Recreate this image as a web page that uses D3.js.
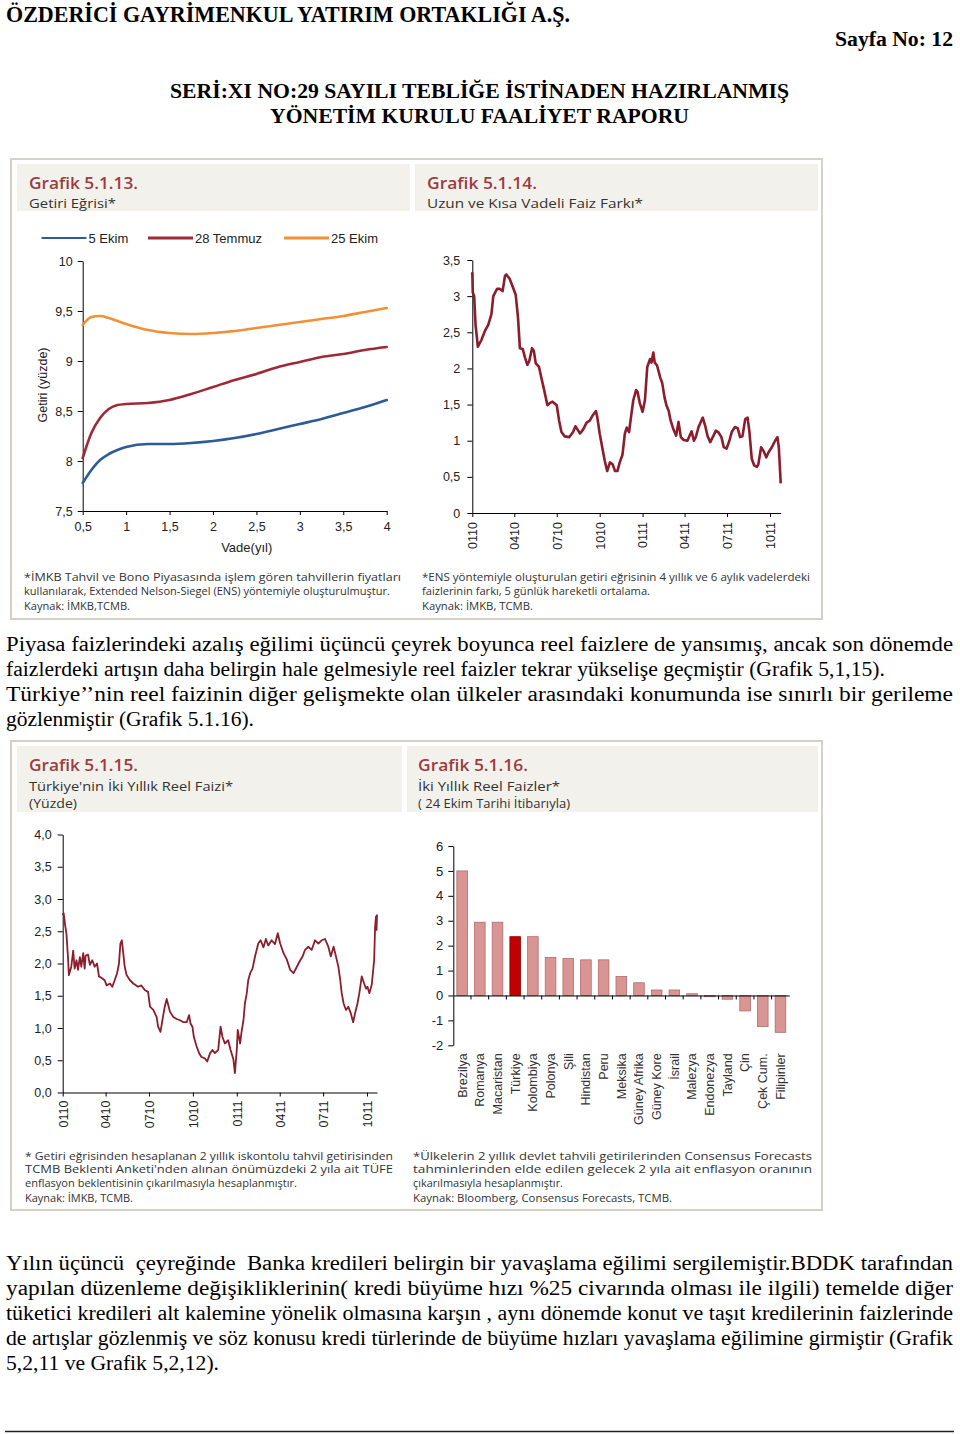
<!DOCTYPE html>
<html><head><meta charset="utf-8">
<script src="https://cdn.jsdelivr.net/npm/d3@7"></script>
<style>body{margin:0;background:#fff}svg{display:block}</style>
</head><body>
<svg id="c" width="960" height="1434"></svg>
<script>
// ---------- DATA ----------
const yieldTerms = [0.5,0.6,0.7,0.8,0.9,1.0,1.25,1.5,1.75,2.0,2.25,2.5,2.75,3.0,3.25,3.5,3.75,4.0];
const yield5Ekim = [7.78,7.91,8.01,8.07,8.11,8.14,8.17,8.17,8.18,8.20,8.23,8.27,8.32,8.37,8.42,8.48,8.54,8.61];
const yield28Temmuz = [8.03,8.28,8.43,8.52,8.56,8.57,8.58,8.61,8.67,8.74,8.81,8.87,8.94,8.99,9.04,9.07,9.11,9.14];
const yield25Ekim = [9.36,9.44,9.45,9.43,9.40,9.37,9.31,9.28,9.27,9.28,9.30,9.33,9.36,9.39,9.42,9.45,9.49,9.53];
const yieldSeriesNames = ["5 Ekim","28 Temmuz","25 Ekim"];
const yieldTicksY = [7.5,8,8.5,9,9.5,10];
const yieldTicksX = [0.5,1,1.5,2,2.5,3,3.5,4];

const spreadDates = ["2010-01-01","2010-01-02","2010-01-05","2010-01-08","2010-01-13","2010-01-21","2010-01-28","2010-02-04","2010-02-11","2010-02-15",
"2010-02-23","2010-03-01","2010-03-07","2010-03-12","2010-03-15","2010-03-22","2010-03-28","2010-04-04","2010-04-09","2010-04-13",
"2010-04-19","2010-04-24","2010-04-29","2010-05-03","2010-05-09","2010-05-13","2010-05-17","2010-05-24","2010-05-29","2010-06-04",
"2010-06-11","2010-06-16","2010-06-22","2010-07-01","2010-07-06","2010-07-11","2010-07-18","2010-07-28","2010-08-05","2010-08-10",
"2010-08-15","2010-08-20","2010-08-27","2010-09-03","2010-09-10","2010-09-16","2010-09-23","2010-09-26","2010-10-01","2010-10-07",
"2010-10-12","2010-10-17","2010-10-23","2010-10-29","2010-11-03","2010-11-08","2010-11-13","2010-11-19","2010-11-24","2010-11-28",
"2010-12-03","2010-12-07","2010-12-12","2010-12-18","2010-12-21","2010-12-26",
"2011-01-01","2011-01-06","2011-01-11","2011-01-17","2011-01-20","2011-01-24","2011-01-27","2011-02-01","2011-02-08","2011-02-12",
"2011-02-17","2011-02-21","2011-02-26","2011-03-02","2011-03-08","2011-03-14","2011-03-19","2011-03-24","2011-03-30","2011-04-07",
"2011-04-16","2011-04-21","2011-04-25","2011-05-01","2011-05-10","2011-05-15","2011-05-20","2011-05-26","2011-06-02","2011-06-07",
"2011-06-12","2011-06-19","2011-06-24","2011-06-30","2011-07-06","2011-07-11","2011-07-18","2011-07-24","2011-07-29","2011-08-03",
"2011-08-09","2011-08-14","2011-08-18","2011-08-23","2011-08-28","2011-09-03","2011-09-06","2011-09-12","2011-09-17","2011-09-23",
"2011-09-28","2011-10-05","2011-10-12","2011-10-17","2011-10-20","2011-10-23","2011-10-24"];
const spreadValues = [3.33,3.05,3.00,2.60,2.30,2.40,2.52,2.60,2.75,3.00,
3.10,3.10,3.07,3.28,3.30,3.24,3.14,3.02,2.70,2.28,
2.27,2.15,2.05,2.10,2.28,2.24,2.07,2.02,1.87,1.70,
1.49,1.52,1.54,1.49,1.28,1.12,1.06,1.05,1.12,1.20,
1.15,1.10,1.16,1.25,1.28,1.35,1.41,1.32,1.10,0.89,
0.72,0.58,0.70,0.67,0.58,0.58,0.70,0.81,1.10,1.18,
1.12,1.32,1.56,1.70,1.68,1.52,
1.40,1.56,2.02,2.13,2.08,2.22,2.08,2.04,1.87,1.80,
1.60,1.49,1.41,1.28,1.16,1.07,1.26,1.05,1.01,1.00,
1.13,1.00,1.05,1.19,1.32,1.21,1.07,0.98,1.07,1.14,
1.12,1.05,0.91,0.89,1.00,1.12,1.19,1.17,1.05,1.06,
1.30,1.32,1.12,0.75,0.66,0.64,0.67,0.91,0.86,0.77,
0.84,0.91,1.00,1.05,0.91,0.54,0.41];
const spreadTicksY = [0,0.5,1,1.5,2,2.5,3,3.5];

const quarterTicks = ["2010-01-01","2010-04-01","2010-07-01","2010-10-01","2011-01-01","2011-04-01","2011-07-01","2011-10-01"];
const quarterLabels = ["0110","0410","0710","1010","0111","0411","0711","1011"];

const realDates = ["2010-01-01","2010-01-03","2010-01-06","2010-01-09","2010-01-12","2010-01-14","2010-01-19","2010-01-23","2010-01-26","2010-01-30",
"2010-02-02","2010-02-06","2010-02-09","2010-02-13","2010-02-16","2010-02-18","2010-02-23","2010-02-27","2010-03-04","2010-03-09",
"2010-03-14","2010-03-18","2010-03-23","2010-03-30","2010-04-03","2010-04-10","2010-04-15","2010-04-20","2010-04-25","2010-04-29",
"2010-05-02","2010-05-05","2010-05-08","2010-05-11","2010-05-15","2010-05-22","2010-05-29","2010-06-08","2010-06-15","2010-06-22",
"2010-06-29","2010-07-03","2010-07-10","2010-07-17","2010-07-20","2010-07-25","2010-07-29","2010-08-03","2010-08-07","2010-08-14",
"2010-08-21","2010-08-28","2010-09-04","2010-09-11","2010-09-18","2010-09-23","2010-09-26","2010-09-30","2010-10-03","2010-10-09",
"2010-10-14","2010-10-19","2010-10-26","2010-10-31","2010-11-06","2010-11-11","2010-11-16","2010-11-23","2010-11-28","2010-12-02",
"2010-12-07","2010-12-14","2010-12-19","2010-12-25","2010-12-28",
"2011-01-01","2011-01-03","2011-01-08","2011-01-11","2011-01-15","2011-01-18","2011-01-22","2011-01-25","2011-01-29","2011-02-03",
"2011-02-08","2011-02-15","2011-02-20","2011-02-26","2011-03-03","2011-03-08","2011-03-15","2011-03-22","2011-03-28","2011-04-02",
"2011-04-09","2011-04-16","2011-04-23","2011-04-30","2011-05-07","2011-05-14","2011-05-19","2011-05-24","2011-05-31","2011-06-07",
"2011-06-14","2011-06-21","2011-06-28","2011-07-05","2011-07-12","2011-07-17","2011-07-23","2011-07-28","2011-08-02","2011-08-06",
"2011-08-09","2011-08-13","2011-08-18","2011-08-23","2011-08-28","2011-09-02","2011-09-06","2011-09-11","2011-09-15","2011-09-20",
"2011-09-25","2011-09-29","2011-10-02","2011-10-06","2011-10-11","2011-10-14","2011-10-16","2011-10-18","2011-10-20","2011-10-21",
"2011-10-22"];
const realValues = [2.75,2.78,2.60,2.45,2.10,1.82,1.95,2.20,1.92,2.05,
1.90,2.10,1.95,2.16,1.92,2.12,2.14,1.98,2.05,1.95,
2.00,1.80,1.78,1.74,1.66,1.69,1.64,1.74,1.85,2.00,
2.31,2.36,2.16,1.95,1.82,1.74,1.69,1.64,1.66,1.59,
1.56,1.33,1.28,1.17,1.02,0.94,1.12,1.33,1.45,1.25,
1.17,1.14,1.12,1.09,1.09,1.20,1.07,1.02,0.86,0.71,
0.61,0.55,0.53,0.48,0.61,0.66,0.61,0.66,1.02,0.86,
0.76,0.81,0.66,0.51,0.30,
0.66,0.97,0.76,0.94,1.12,1.38,1.54,1.74,1.85,1.92,
2.10,2.31,2.36,2.25,2.38,2.28,2.36,2.30,2.47,2.31,
2.16,2.06,1.90,1.85,1.95,2.05,2.11,2.21,2.26,2.21,
2.36,2.31,2.36,2.38,2.26,2.11,2.26,2.11,1.95,1.74,
1.54,1.38,1.28,1.33,1.23,1.09,1.23,1.38,1.54,1.80,
1.69,1.61,1.64,1.54,1.67,1.90,2.05,2.57,2.73,2.52,
2.76];
const realTicksY = [0,0.5,1,1.5,2,2.5,3,3.5,4];

const countries = ["Brezilya","Romanya","Macaristan","Türkiye","Kolombiya","Polonya","Şili","Hindistan","Peru","Meksika","Güney Afrika","Güney Kore","İsrail","Malezya","Endonezya","Tayland","Çin","Çek Cum.","Filipinler"];
const countryRates = [5.0,2.94,2.94,2.36,2.36,1.53,1.48,1.43,1.43,0.76,0.51,0.22,0.22,0.07,-0.05,-0.15,-0.62,-1.25,-1.48];
const highlightCountry = "Türkiye";
const barTicksY = [-2,-1,0,1,2,3,4,5,6];

// ---------- STYLE ----------
const C_BLUE = "#2e5b98", C_MAROON = "#9e2a35", C_ORANGE = "#f39035", C_LINE = "#8c1d2c";
const C_TITLE = "#9c3b42", C_BAND = "#f3f1ec", C_FRAME = "#d5d1c9";
const SERIF = "'Liberation Serif','Times New Roman',serif";
const SANS = "'Liberation Sans',Arial,sans-serif";
const GOTH = "'Open Sans','DejaVu Sans',sans-serif";

const svg = d3.select("#c");
svg.append("rect").attr("width",960).attr("height",1434).attr("fill","#fff");

function txt(x, y, s, o) {
  o = o || {};
  const t = svg.append("text").attr("x", x).attr("y", y).text(s)
    .attr("font-family", o.font || SANS).attr("font-size", o.size || 12)
    .attr("font-weight", o.weight || "normal").attr("fill", o.fill || "#000")
    .attr("text-anchor", o.anchor || "start").style("white-space","pre");
  if (o.len) t.attr("textLength", o.len).attr("lengthAdjust", "spacingAndGlyphs");
  if (o.rotate) t.attr("transform", `rotate(${o.rotate},${x},${y})`);
  return t;
}
function styleAxis(g, size) {
  g.selectAll("text").attr("font-family", SANS).attr("font-size", size || 12.5).attr("fill", "#222");
  g.selectAll("line,path").attr("stroke", "#000").attr("stroke-width", 1);
}
const fmtC = d => String(d).replace(".", ",");

// ---------- PAGE HEADER ----------
txt(6, 22, "ÖZDERİCİ GAYRİMENKUL YATIRIM ORTAKLIĞI A.Ş.", {font: SERIF, size: 23, weight: "bold", len: 564});
txt(835, 46, "Sayfa No: 12", {font: SERIF, size: 21, weight: "bold", len: 118});
txt(170, 98, "SERİ:XI NO:29 SAYILI TEBLİĞE İSTİNADEN HAZIRLANMIŞ", {font: SERIF, size: 21, weight: "bold", len: 619});
txt(270, 123, "YÖNETİM KURULU FAALİYET RAPORU", {font: SERIF, size: 21, weight: "bold", len: 419});

// ---------- PANEL FRAMES ----------
function frame(x, y, w, h) {
  svg.append("rect").attr("x", x).attr("y", y).attr("width", w).attr("height", h)
    .attr("fill", "none").attr("stroke", C_FRAME).attr("stroke-width", 2);
}
function band(x, y, w, h) {
  svg.append("rect").attr("x", x).attr("y", y).attr("width", w).attr("height", h).attr("fill", C_BAND);
}
frame(11, 159, 811, 460);
frame(11, 741, 811, 469);
band(17, 164, 393, 47); band(415, 164, 403, 47);
band(17, 746, 385, 66); band(407, 746, 411, 66);

// titles
txt(29, 189, "Grafik 5.1.13.", {font: GOTH, size: 17, weight: 600, fill: C_TITLE, len: 109});
txt(29, 208, "Getiri Eğrisi*", {font: GOTH, size: 12.5, fill: "#333", len: 87});
txt(427, 189, "Grafik 5.1.14.", {font: GOTH, size: 17, weight: 600, fill: C_TITLE, len: 110});
txt(427, 208, "Uzun ve Kısa Vadeli Faiz Farkı*", {font: GOTH, size: 12.5, fill: "#333", len: 216});
txt(29, 771, "Grafik 5.1.15.", {font: GOTH, size: 17, weight: 600, fill: C_TITLE, len: 109});
txt(29, 791, "Türkiye'nin İki Yıllık Reel Faizi*", {font: GOTH, size: 12.5, fill: "#333", len: 204});
txt(29, 808, "(Yüzde)", {font: GOTH, size: 12.5, fill: "#333", len: 48});
txt(418, 771, "Grafik 5.1.16.", {font: GOTH, size: 17, weight: 600, fill: C_TITLE, len: 110});
txt(418, 791, "İki Yıllık Reel Faizler*", {font: GOTH, size: 12.5, fill: "#333", len: 142});
txt(418, 808, "( 24 Ekim Tarihi İtibarıyla)", {font: GOTH, size: 12.5, fill: "#333", len: 152});

// ---------- CHART 1: yield curve ----------
{
  const x = d3.scaleLinear().domain([0.5, 4]).range([82.7, 386.7]);
  const y = d3.scaleLinear().domain([7.5, 10]).range([511, 261]);
  const gx = svg.append("g").attr("transform", "translate(0,511)")
    .call(d3.axisBottom(x).tickValues(yieldTicksX).tickFormat(fmtC).tickSize(4).tickSizeOuter(0).tickPadding(7));
  styleAxis(gx);
  const gy = svg.append("g").attr("transform", "translate(82.7,0)")
    .call(d3.axisLeft(y).tickValues(yieldTicksY).tickFormat(fmtC).tickSize(5).tickSizeOuter(0).tickPadding(5));
  styleAxis(gy);
  const series = [yield5Ekim, yield28Temmuz, yield25Ekim];
  const colors = [C_BLUE, C_MAROON, C_ORANGE];
  const line = d3.line().x((d, i) => x(yieldTerms[i])).y(d => y(d)).curve(d3.curveMonotoneX);
  series.forEach((s, k) => {
    svg.append("path").attr("d", line(s)).attr("fill", "none").attr("stroke", colors[k])
      .attr("stroke-width", 2.6).attr("stroke-linecap", "round");
  });
  // legend
  const lx = [41.5, 148, 284];
  yieldSeriesNames.forEach((n, k) => {
    svg.append("line").attr("x1", lx[k]).attr("x2", lx[k] + 45).attr("y1", 238).attr("y2", 238)
      .attr("stroke", colors[k]).attr("stroke-width", k === 0 ? 2 : 3.2);
    txt(lx[k] + 47, 242.5, n, {size: 13, fill: "#222"});
  });
  txt(246.7, 552, "Vade(yıl)", {size: 13, fill: "#222", anchor: "middle"});
  txt(47, 385, "Getiri (yüzde)", {size: 12.5, fill: "#222", anchor: "middle", rotate: -90});
}
txt(24, 581, "*İMKB Tahvil ve Bono Piyasasında işlem gören tahvillerin fiyatları", {font: GOTH, size: 10.5, fill: "#333", len: 377});
txt(24, 595, "kullanılarak, Extended Nelson-Siegel (ENS) yöntemiyle oluşturulmuştur.", {font: GOTH, size: 10.5, fill: "#333", len: 366});
txt(24, 610, "Kaynak: İMKB,TCMB.", {font: GOTH, size: 10.5, fill: "#333", len: 106});

// ---------- CHART 2: spread ----------
const parse = d3.timeParse("%Y-%m-%d");
{
  const x = d3.scaleTime().domain([parse("2010-01-01"), parse("2011-10-24")]).range([472.3, 780.7]);
  const y = d3.scaleLinear().domain([0, 3.5]).range([513, 260]);
  const gx = svg.append("g").attr("transform", "translate(0,513)")
    .call(d3.axisBottom(x).tickValues(quarterTicks.map(parse)).tickFormat((d, i) => quarterLabels[i]).tickSize(4).tickSizeOuter(0));
  styleAxis(gx);
  gx.selectAll("text").attr("transform", "rotate(-90)").attr("x", -9).attr("y", 0).attr("dy", "0.35em").attr("text-anchor", "end");
  const gy = svg.append("g").attr("transform", "translate(472.3,0)")
    .call(d3.axisLeft(y).tickValues(spreadTicksY).tickFormat(fmtC).tickSize(5).tickSizeOuter(0).tickPadding(7));
  styleAxis(gy);
  const line = d3.line().x((d, i) => x(parse(spreadDates[i]))).y(d => y(d));
  svg.append("path").attr("d", line(spreadValues)).attr("fill", "none").attr("stroke", C_LINE)
    .attr("stroke-width", 2.6).attr("stroke-linejoin", "round");
}
txt(422, 581, "*ENS yöntemiyle oluşturulan getiri eğrisinin 4 yıllık ve 6 aylık vadelerdeki", {font: GOTH, size: 10.5, fill: "#333", len: 388});
txt(422, 595, "faizlerinin farkı, 5 günlük hareketli ortalama.", {font: GOTH, size: 10.5, fill: "#333", len: 228});
txt(422, 610, "Kaynak: İMKB, TCMB.", {font: GOTH, size: 10.5, fill: "#333", len: 111});

// ---------- CHART 3: real rate ----------
{
  const x = d3.scaleTime().domain([parse("2010-01-01"), parse("2011-10-22")]).range([62.7, 377]);
  const y = d3.scaleLinear().domain([0, 4]).range([1092.5, 834.5]);
  const gx = svg.append("g").attr("transform", "translate(0,1092.5)")
    .call(d3.axisBottom(x).tickValues(quarterTicks.map(parse)).tickFormat((d, i) => quarterLabels[i]).tickSize(4).tickSizeOuter(0));
  styleAxis(gx);
  gx.selectAll("text").attr("transform", "rotate(-90)").attr("x", -8).attr("y", 0).attr("dy", "0.35em").attr("text-anchor", "end");
  const gy = svg.append("g").attr("transform", "translate(62.7,0)")
    .call(d3.axisLeft(y).tickValues(realTicksY).tickFormat(d => d.toFixed(1).replace(".", ",")).tickSize(5).tickSizeOuter(0).tickPadding(6));
  styleAxis(gy);
  const line = d3.line().x((d, i) => x(parse(realDates[i]))).y(d => y(d));
  svg.append("path").attr("d", line(realValues)).attr("fill", "none").attr("stroke", C_LINE)
    .attr("stroke-width", 1.8).attr("stroke-linejoin", "round");
}
txt(25, 1160, "* Getiri eğrisinden hesaplanan 2 yıllık iskontolu tahvil getirisinden", {font: GOTH, size: 10.5, fill: "#333", len: 368});
txt(25, 1173, "TCMB Beklenti Anketi'nden alınan önümüzdeki 2 yıla ait TÜFE", {font: GOTH, size: 10.5, fill: "#333", len: 368});
txt(25, 1187, "enflasyon beklentisinin çıkarılmasıyla hesaplanmıştır.", {font: GOTH, size: 10.5, fill: "#333", len: 272});
txt(25, 1202, "Kaynak: İMKB, TCMB.", {font: GOTH, size: 10.5, fill: "#333", len: 108});

// ---------- CHART 4: bars ----------
{
  const x = d3.scaleBand().domain(countries).range([453.3, 789.3]).paddingInner(0.4).paddingOuter(0.2);
  const y = d3.scaleLinear().domain([-2, 6]).range([1045.3, 846]);
  svg.append("g").selectAll("rect").data(countries).join("rect")
    .attr("x", c => x(c)).attr("width", x.bandwidth())
    .attr("y", (c, i) => y(Math.max(0, countryRates[i])))
    .attr("height", (c, i) => Math.abs(y(countryRates[i]) - y(0)))
    .attr("fill", c => c === highlightCountry ? "#c00000" : "#d99594")
    .attr("stroke", c => c === highlightCountry ? "#900000" : "#b36b6d").attr("stroke-width", 0.8);
  const gy = svg.append("g").attr("transform", "translate(453.3,0)")
    .call(d3.axisLeft(y).tickValues(barTicksY).tickFormat(d => String(d)).tickSize(5).tickSizeOuter(0).tickPadding(5));
  styleAxis(gy, 13);
  const g0 = svg.append("g").attr("transform", `translate(0,${y(0)})`)
    .call(d3.axisBottom(x).tickValues([]).tickSizeOuter(0));
  styleAxis(g0);
  // band boundary ticks on zero line
  svg.append("g").selectAll("line").data(countries.slice(1)).join("line")
    .attr("x1", c => x(c) - x.step() * x.paddingInner() / 2).attr("x2", c => x(c) - x.step() * x.paddingInner() / 2)
    .attr("y1", y(0)).attr("y2", y(0) + 4).attr("stroke", "#000");
  const gl = svg.append("g").attr("transform", `translate(0,${y(-2)})`)
    .call(d3.axisBottom(x).tickSize(0));
  gl.select(".domain").remove();
  styleAxis(gl, 12.5);
  gl.selectAll("text").attr("transform", "rotate(-90)").attr("x", -8).attr("y", 0).attr("dy", "0.35em").attr("text-anchor", "end").attr("fill", "#333");
}
txt(413, 1160, "*Ülkelerin 2 yıllık devlet tahvili getirilerinden Consensus Forecasts", {font: GOTH, size: 10.5, fill: "#333", len: 399});
txt(413, 1173, "tahminlerinden elde edilen gelecek 2 yıla ait enflasyon oranının", {font: GOTH, size: 10.5, fill: "#333", len: 399});
txt(413, 1187, "çıkarılmasıyla hesaplanmıştır.", {font: GOTH, size: 10.5, fill: "#333", len: 150});
txt(413, 1202, "Kaynak: Bloomberg, Consensus Forecasts, TCMB.", {font: GOTH, size: 10.5, fill: "#333", len: 259});

// ---------- BODY TEXT ----------
const bodyOpts = {font: SERIF, size: 20};
txt(6, 651, "Piyasa faizlerindeki azalış eğilimi üçüncü çeyrek boyunca reel faizlere de yansımış, ancak son dönemde", Object.assign({len: 947}, bodyOpts));
txt(6, 676, "faizlerdeki artışın daha belirgin hale gelmesiyle reel faizler tekrar yükselişe geçmiştir (Grafik 5,1,15).", Object.assign({len: 879}, bodyOpts));
txt(6, 701, "Türkiye’’nin reel faizinin diğer gelişmekte olan ülkeler arasındaki konumunda ise sınırlı bir gerileme", Object.assign({len: 947}, bodyOpts));
txt(6, 726, "gözlenmiştir (Grafik 5.1.16).", Object.assign({len: 248}, bodyOpts));

txt(6, 1270, "Yılın üçüncü  çeyreğinde  Banka kredileri belirgin bir yavaşlama eğilimi sergilemiştir.BDDK tarafından", Object.assign({len: 947}, bodyOpts));
txt(6, 1295, "yapılan düzenleme değişikliklerinin( kredi büyüme hızı %25 civarında olması ile ilgili) temelde diğer", Object.assign({len: 947}, bodyOpts));
txt(6, 1320, "tüketici kredileri alt kalemine yönelik olmasına karşın , aynı dönemde konut ve taşıt kredilerinin faizlerinde", Object.assign({len: 947}, bodyOpts));
txt(6, 1345, "de artışlar gözlenmiş ve söz konusu kredi türlerinde de büyüme hızları yavaşlama eğilimine girmiştir (Grafik", Object.assign({len: 947}, bodyOpts));
txt(6, 1370, "5,2,11 ve Grafik 5,2,12).", Object.assign({len: 213}, bodyOpts));

svg.append("line").attr("x1", 5).attr("x2", 954).attr("y1", 1431.5).attr("y2", 1431.5)
  .attr("stroke", "#222").attr("stroke-width", 1.6);
</script>
</body></html>
